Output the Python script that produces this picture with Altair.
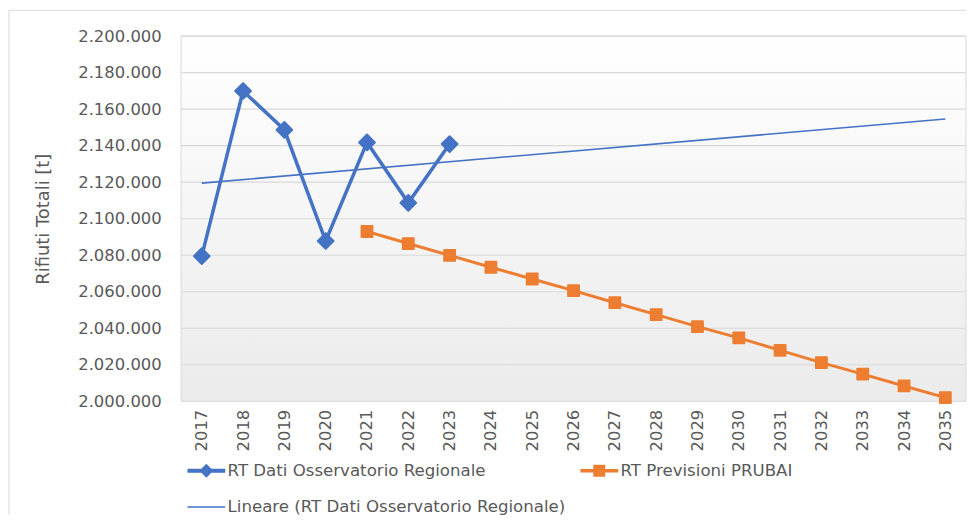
import altair as alt
import pandas as pd

# ---- data ----
S_OBS = "RT Dati Osservatorio Regionale"
S_PREV = "RT Previsioni PRUBAI"
S_TREND = "Lineare (RT Dati Osservatorio Regionale)"

years_obs = [2017, 2018, 2019, 2020, 2021, 2022, 2023]
values_obs = [2079500, 2170000, 2148700, 2087800, 2141800, 2108700, 2140900]

years_prev = [2021, 2022, 2023, 2024, 2025, 2026, 2027, 2028, 2029, 2030,
              2031, 2032, 2033, 2034, 2035]
values_prev = [2093000, 2086400, 2079900, 2073400, 2067000, 2060600, 2054000,
               2047500, 2040900, 2034700, 2027900, 2021200, 2014900, 2008400,
               2002000]

x_ticks = [2017, 2018, 2019, 2020, 2021, 2022, 2023, 2024, 2025, 2026, 2027,
           2028, 2029, 2030, 2031, 2032, 2033, 2034, 2035]
y_ticks = [2000000, 2020000, 2040000, 2060000, 2080000, 2100000, 2120000,
           2140000, 2160000, 2180000, 2200000]

BLUE = "#4472C4"
ORANGE = "#ED7D31"
GRID = "#d9d9d9"
TEXT = "#595959"
FONT = "DejaVu Sans"

W, H = 789, 367

df = pd.DataFrame(
    {
        "year": years_obs + years_prev,
        "value": values_obs + values_prev,
        "series": [S_OBS] * len(years_obs) + [S_PREV] * len(years_prev),
    }
)
grid_df = pd.DataFrame({"value": y_ticks[1:]})

xscale = alt.Scale(domain=[2016.5, 2035.5], nice=False, zero=False)
yscale = alt.Scale(domain=[2000000, 2200000], nice=False, zero=False)

x_enc = alt.X(
    "year:Q",
    scale=xscale,
    axis=alt.Axis(
        values=x_ticks, format="d", labelAngle=270, grid=False, ticks=False,
        domain=False, labelPadding=8, labelFont=FONT, labelFontSize=16.5,
        labelColor=TEXT, title=None, labelOverlap=False,
    ),
)
y_axis = alt.Axis(
    values=y_ticks, grid=False, ticks=False, domain=False,
    labelExpr="replace(format(datum.value, ','), /,/g, '.')",
    labelPadding=20, labelFont=FONT, labelFontSize=16.5, labelColor=TEXT,
    title="Rifiuti Totali [t]", titleFont=FONT, titleFontSize=18,
    titleFontWeight="normal", titleColor=TEXT, titlePadding=25,
)
y_enc = alt.Y("value:Q", scale=yscale, axis=y_axis)

one = alt.Data(values=[{}])

# plot background with soft vertical gradient
bg = alt.Chart(one).mark_rect(
    fill=alt.Gradient(
        gradient="linear",
        stops=[alt.GradientStop(color="#ffffff", offset=0),
               alt.GradientStop(color="#ebebeb", offset=1)],
        x1=0, x2=0, y1=0, y2=1,
    ),
    stroke=GRID, strokeWidth=1,
).encode(x=alt.value(0), x2=alt.value(W), y=alt.value(0), y2=alt.value(H))

# outer frame (top and left edges)
frame_top = alt.Chart(one).mark_rule(color=GRID, strokeWidth=1).encode(
    x=alt.value(-173), x2=alt.value(W), y=alt.value(-26))
frame_left = alt.Chart(one).mark_rule(color=GRID, strokeWidth=1).encode(
    x=alt.value(-173), y=alt.value(-26), y2=alt.value(481))

grid = alt.Chart(grid_df).mark_rule(color=GRID, strokeWidth=1.2).encode(
    y=y_enc, x=alt.value(0), x2=alt.value(W),
)

base = alt.Chart(df)

prev_line = base.transform_filter(alt.datum.series == S_PREV).mark_line(
    color=ORANGE, strokeWidth=3).encode(x=x_enc, y=y_enc)
prev_pts = base.transform_filter(alt.datum.series == S_PREV).mark_point(
    shape="square", filled=True, size=130, color=ORANGE, opacity=1,
    stroke=ORANGE, strokeWidth=1.5, strokeJoin="round").encode(x=x_enc, y=y_enc)

trend = base.transform_filter(alt.datum.series == S_OBS).transform_regression(
    "year", "value", extent=[2017, 2035]
).mark_line(color=BLUE, strokeWidth=1.6).encode(x=x_enc, y=y_enc)

obs_line = base.transform_filter(alt.datum.series == S_OBS).mark_line(
    color=BLUE, strokeWidth=3.5).encode(x=x_enc, y=y_enc)
obs_pts = base.transform_filter(alt.datum.series == S_OBS).mark_point(
    shape="diamond", filled=True, size=250, color=BLUE, opacity=1,
    stroke=BLUE, strokeWidth=2, strokeJoin="round").encode(x=x_enc, y=y_enc)

# legend symbols: line with marker
path_obs = ("M-2.375,-0.25L2.375,-0.25L2.375,0.25L-2.375,0.25Z "
            "M0,-0.875L0.875,0L0,0.875L-0.875,0Z")
path_prev = ("M-2.375,-0.22L2.375,-0.22L2.375,0.22L-2.375,0.22Z "
             "M-0.75,-0.75L0.75,-0.75L0.75,0.75L-0.75,0.75Z")
path_trend = "M-2.375,-0.1L2.375,-0.1L2.375,0.1L-2.375,0.1Z"

domain = [S_OBS, S_PREV, S_TREND]
legend = alt.Legend(
    title=None, orient="none", legendX=17, legendY=428, columns=2,
    direction="horizontal", columnPadding=15, rowPadding=19, padding=0,
    labelFont=FONT, labelFontSize=16.7, labelColor=TEXT, labelOffset=13,
    symbolSize=256, symbolStrokeWidth=0, symbolOpacity=1, gridAlign="each",
    labelLimit=0,
)
legend_layer = base.mark_point(filled=True, size=0, opacity=1).encode(
    x=x_enc, y=y_enc,
    color=alt.Color("series:N", scale=alt.Scale(domain=domain, range=[BLUE, ORANGE, BLUE]), legend=legend),
    shape=alt.Shape("series:N", scale=alt.Scale(domain=domain, range=[path_obs, path_prev, path_trend]), legend=legend),
)

chart = alt.layer(
    bg, frame_top, frame_left, grid, prev_line, prev_pts, trend, obs_line, obs_pts, legend_layer
).properties(width=W, height=H, padding=0).configure_view(stroke=None)

chart.save("out.html", embed_options={"renderer": "svg", "actions": False})
